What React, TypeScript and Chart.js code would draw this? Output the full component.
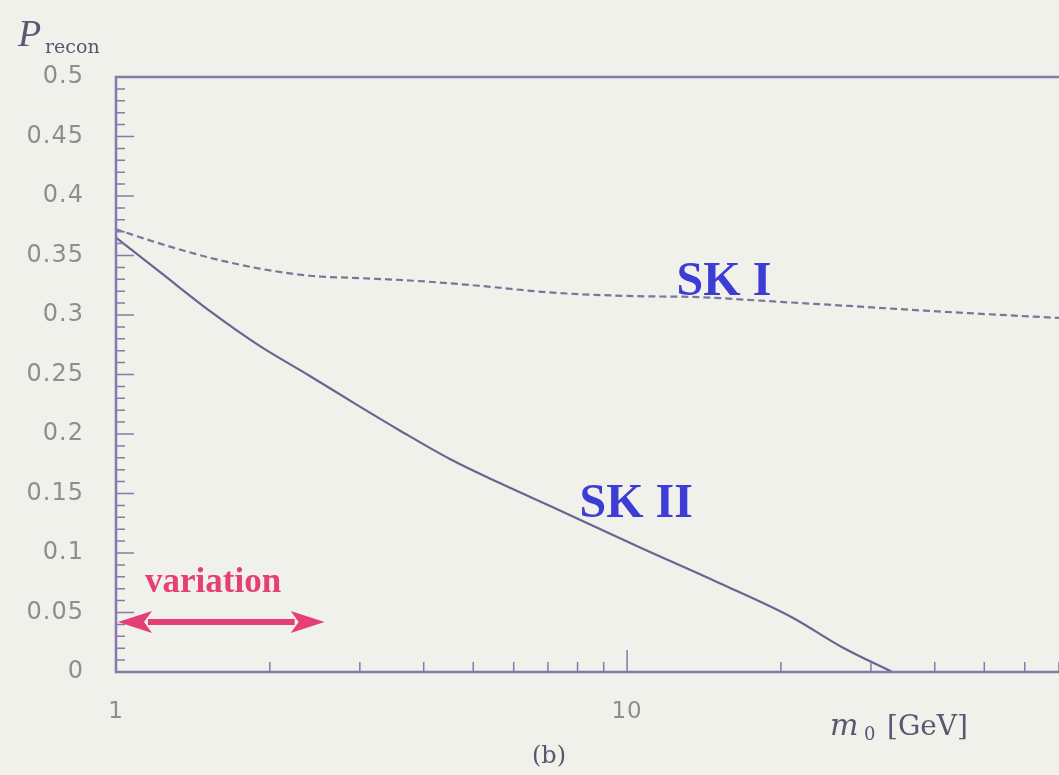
import React, { useEffect, useRef } from "react";
import { Chart, registerables } from "chart.js";

Chart.register(...registerables);

// ---- data ----
const skIMass = [1, 1.22, 1.53, 1.91, 2.39, 3.0, 3.76, 5, 7.05, 10, 13.8, 20, 27.2, 42.5, 70];
const skIProb = [0.372, 0.36, 0.348, 0.339, 0.333, 0.331, 0.329, 0.325, 0.319, 0.316, 0.315, 0.311, 0.3076, 0.3025, 0.2975];

const skIIMass = [1, 1.22, 1.53, 1.91, 2.39, 3.0, 3.59, 4.5, 5.62, 7.37, 10.55, 15.1, 21, 26.3, 33];
const skIIProb = [0.365, 0.336, 0.303, 0.274, 0.249, 0.223, 0.203, 0.179, 0.159, 0.136, 0.105, 0.075, 0.046, 0.021, 0];

const xTickValues = [1, 10];
const xTickLabels = ["1", "10"];
const xMinorTicks = [2, 3, 4, 5, 6, 7, 8, 9, 20, 30, 40, 50, 60, 70];
const yTickValues = [0, 0.05, 0.1, 0.15, 0.2, 0.25, 0.3, 0.35, 0.4, 0.45, 0.5];
const yTickLabels = ["0", "0.05", "0.1", "0.15", "0.2", "0.25", "0.3", "0.35", "0.4", "0.45", "0.5"];

const noteTexts = ["SK I", "SK II", "variation"];
const noteMass = [12.5, 8.07, 1.14];
const noteProb = [0.317, 0.13, 0.067];
const arrowMass = [1, 2.56];
const arrowProb = 0.042;

const paper = "#f1f1ec";
const frameColor = "#8679ad";
const lineColor = "#6b6391";
const blue = "#3d3dd6";
const pink = "#e63f78";

const decorPlugin = {
  id: "decor",
  beforeDraw(chart: any) {
    const { ctx, width, height } = chart;
    ctx.save();
    ctx.fillStyle = paper;
    ctx.fillRect(0, 0, width, height);
    ctx.restore();
    // slightly wider glyph spacing for the tick labels, as in the scanned figure
    (ctx as any).letterSpacing = "1px";
  },
  beforeDatasetsDraw(chart: any) {
    (chart.ctx as any).letterSpacing = "0px";
  },
  afterDatasetsDraw(chart: any) {
    const { ctx, chartArea: a, scales } = chart;
    const xs = scales.x;
    const ys = scales.y;
    ctx.save();
    (ctx as any).letterSpacing = "0px";
    // inward tick marks
    ctx.strokeStyle = frameColor;
    ctx.lineWidth = 1.5;
    ctx.beginPath();
    xMinorTicks.forEach((v) => {
      const px = xs.getPixelForValue(v);
      ctx.moveTo(px, a.bottom);
      ctx.lineTo(px, a.bottom - 10);
    });
    xTickValues.forEach((v) => {
      const px = xs.getPixelForValue(v);
      ctx.moveTo(px, a.bottom);
      ctx.lineTo(px, a.bottom - 22);
    });
    for (let i = 0; i <= 50; i++) {
      const py = ys.getPixelForValue(i / 100);
      const len = i % 5 === 0 ? 18 : 9;
      ctx.moveTo(a.left, py);
      ctx.lineTo(a.left + len, py);
    }
    ctx.stroke();

    // frame (top, left, bottom)
    ctx.lineWidth = 2.5;
    ctx.beginPath();
    ctx.moveTo(a.right + 2, a.top);
    ctx.lineTo(a.left, a.top);
    ctx.lineTo(a.left, a.bottom);
    ctx.lineTo(a.right + 2, a.bottom);
    ctx.stroke();

    // annotations
    ctx.textBaseline = "alphabetic";
    ctx.textAlign = "left";
    noteTexts.forEach((t, i) => {
      const px = xs.getPixelForValue(noteMass[i]);
      const py = ys.getPixelForValue(noteProb[i]);
      if (i < 2) {
        ctx.fillStyle = blue;
        ctx.font = "bold 48px 'Liberation Serif', serif";
      } else {
        ctx.fillStyle = pink;
        ctx.font = "bold 35px 'Liberation Serif', serif";
      }
      ctx.fillText(t, px, py);
    });

    // double arrow
    const x1 = xs.getPixelForValue(arrowMass[0]) + 2;
    const x2 = xs.getPixelForValue(arrowMass[1]);
    const ay = ys.getPixelForValue(arrowProb);
    const head = 34;
    const hw = 11;
    ctx.strokeStyle = pink;
    ctx.fillStyle = pink;
    ctx.lineWidth = 6;
    ctx.beginPath();
    ctx.moveTo(x1 + head - 4, ay);
    ctx.lineTo(x2 - head + 4, ay);
    ctx.stroke();
    ctx.beginPath();
    ctx.moveTo(x1, ay);
    ctx.lineTo(x1 + head, ay - hw);
    ctx.lineTo(x1 + head - 8, ay);
    ctx.lineTo(x1 + head, ay + hw);
    ctx.closePath();
    ctx.fill();
    ctx.beginPath();
    ctx.moveTo(x2, ay);
    ctx.lineTo(x2 - head, ay - hw);
    ctx.lineTo(x2 - head + 8, ay);
    ctx.lineTo(x2 - head, ay + hw);
    ctx.closePath();
    ctx.fill();

    // axis titles
    ctx.fillStyle = "#5c5670";
    // y title: P_recon
    ctx.font = "italic 38px 'Liberation Serif', serif";
    ctx.fillText("P", 18, 46);
    ctx.font = "19px 'DejaVu Serif', serif";
    ctx.fillText("recon", 45, 53);
    // x title: m0 [GeV]
    const by = a.bottom + 63;
    ctx.font = "italic 30px 'DejaVu Serif', serif";
    ctx.fillText("m", a.left + 714, by);
    ctx.font = "18px 'DejaVu Serif', serif";
    ctx.fillText("0", a.left + 748, by + 5);
    ctx.font = "28px 'DejaVu Serif', serif";
    ctx.fillText("[GeV]", a.left + 771, by);
    // panel label
    ctx.font = "24px 'DejaVu Serif', serif";
    ctx.fillText("(b)", a.left + 416, a.bottom + 91);
    ctx.restore();
  },
};

export default function App() {
  const ref = useRef<HTMLCanvasElement | null>(null);

  useEffect(() => {
    document.body.style.margin = "0";
    document.body.style.background = paper;
    const canvas = ref.current;
    if (!canvas) return;
    const chart = new Chart(canvas, {
      type: "line",
      data: {
        datasets: [
          {
            label: "SK I",
            data: skIMass.map((m, i) => ({ x: m, y: skIProb[i] })),
            borderColor: "#7d7599",
            borderWidth: 2.2,
            borderDash: [7, 4],
            pointRadius: 0,
            tension: 0.4,
            cubicInterpolationMode: "monotone",
          },
          {
            label: "SK II",
            data: skIIMass.map((m, i) => ({ x: m, y: skIIProb[i] })),
            borderColor: lineColor,
            borderWidth: 2.2,
            pointRadius: 0,
            tension: 0.4,
            cubicInterpolationMode: "monotone",
          },
        ],
      },
      options: {
        responsive: false,
        animation: false,
        devicePixelRatio: 1,
        layout: { padding: { top: 77, right: 0, left: 0, bottom: 0 } },
        plugins: {
          legend: { display: false },
          tooltip: { enabled: false },
        },
        scales: {
          x: {
            type: "logarithmic",
            min: 1,
            max: 70,
            grid: { display: false, drawTicks: false },
            border: { display: false },
            afterBuildTicks: (axis: any) => {
              axis.ticks = xTickValues.map((v) => ({ value: v }));
            },
            afterFit: (axis: any) => {
              axis.height = 103;
            },
            ticks: {
              autoSkip: false,
              maxRotation: 0,
              padding: 26,
              color: "#8e8e8e",
              font: { family: "'DejaVu Sans', sans-serif", size: 23 },
              callback: (_v: any, i: number) => xTickLabels[i],
            },
          },
          y: {
            type: "linear",
            min: 0,
            max: 0.5,
            grid: { display: false, drawTicks: false },
            border: { display: false },
            afterBuildTicks: (axis: any) => {
              axis.ticks = yTickValues.map((v) => ({ value: v }));
            },
            afterFit: (axis: any) => {
              axis.width = 116;
            },
            ticks: {
              padding: 32,
              color: "#8e8e8e",
              font: { family: "'DejaVu Sans', sans-serif", size: 24 },
              callback: (_v: any, i: number) => yTickLabels[i],
            },
          },
        },
      },
      plugins: [decorPlugin],
    } as any);
    return () => chart.destroy();
  }, []);

  return (
    <div style={{ position: "absolute", left: 0, top: 0, width: 1059, height: 775 }}>
      <canvas ref={ref} width={1059} height={775} style={{ display: "block" }} />
    </div>
  );
}
